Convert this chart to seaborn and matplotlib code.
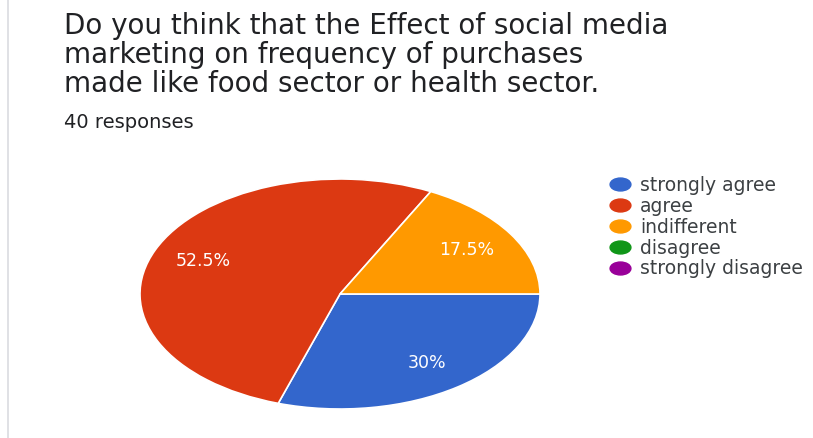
import matplotlib
matplotlib.use("Agg")
import matplotlib.pyplot as plt
from matplotlib.lines import Line2D
from matplotlib.path import Path
from matplotlib.transforms import Affine2D
import seaborn as sns

# Survey answers (40 responses)
categories = ["strongly agree", "agree", "indifferent", "disagree", "strongly disagree"]
counts = [12, 21, 7, 0, 0]
colors = ["#3366CC", "#DC3912", "#FF9900", "#109618", "#990099"]

title_lines = [
    "Do you think that the Effect of social media",
    "marketing on frequency of purchases",
    "made like food sector or health sector.",
]
subtitle = "40 responses"

sns.set_theme(style="white")
plt.rcParams["font.family"] = ["DejaVu Sans"]

W, H = 813, 438
fig = plt.figure(figsize=(W / 100, H / 100), dpi=100)
fig.patch.set_facecolor("white")

def fx(px):
    return px / W

def fy(py):
    return 1 - py / H

# thin card border on the left
fig.add_artist(Line2D([fx(8), fx(8)], [0, 1], color="#dadce0", lw=1.2))

# title block
for i, line in enumerate(title_lines):
    fig.text(fx(64), fy(34 + i * 29), line, fontsize=20, color="#202124",
             va="baseline", ha="left")
fig.text(fx(64), fy(128), subtitle, fontsize=14, color="#202124",
         va="baseline", ha="left")

# pie (drawn on a stretched axes so it renders as an ellipse)
nz = [(c, n, col) for c, n, col in zip(categories, counts, colors) if n > 0]
ax = fig.add_axes([fx(140), fy(409), fx(540) - fx(140), (409 - 179) / H])
wedges, texts, autotexts = ax.pie(
    [n for _, n, _ in nz],
    colors=[col for _, _, col in nz],
    startangle=0,
    counterclock=False,
    autopct=lambda p: f"{p:g}%",
    pctdistance=0.74,
    wedgeprops=dict(edgecolor="white", linewidth=1.2),
    textprops=dict(color="white", fontsize=12.5),
)
ax.set_aspect("auto")
ax.set_xlim(-1, 1)
ax.set_ylim(-1, 1)
ax.axis("off")

# legend with all answer options
ell = Path.unit_circle().transformed(Affine2D().scale(1.0, 0.62))
handles = [Line2D([], [], marker=ell, linestyle="none", markersize=15,
                  markerfacecolor=col, markeredgecolor=col) for col in colors]
fig.legend(handles, categories, loc="upper left",
           bbox_to_anchor=(fx(609), fy(176)), frameon=False,
           fontsize=13.5, labelcolor="#3c4043", handletextpad=0.45,
           labelspacing=0.1, borderaxespad=0, borderpad=0, handlelength=1.2)

fig.savefig("out.png", dpi=100, facecolor="white")
